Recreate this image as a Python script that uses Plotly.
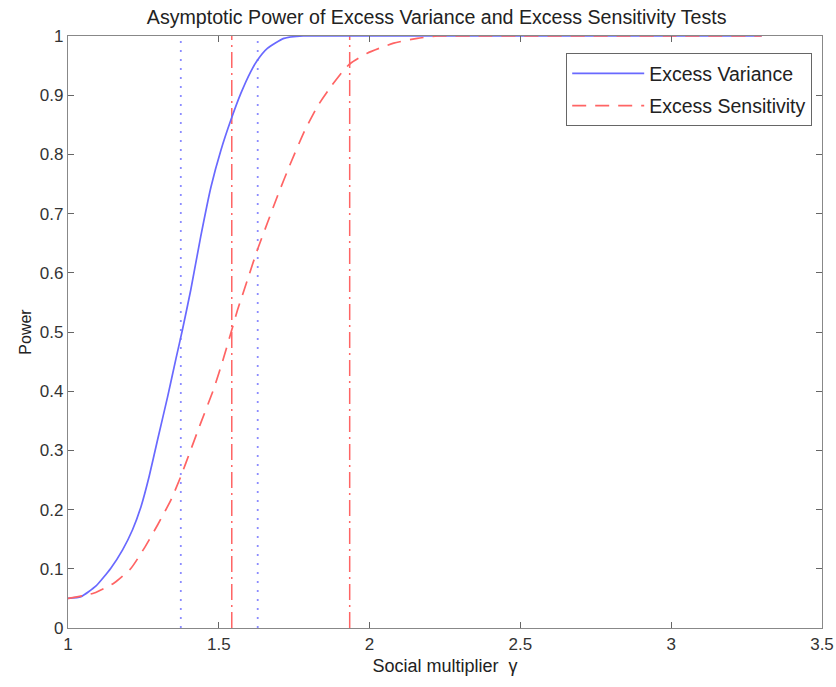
import plotly.graph_objects as go

gamma_ev = [1.0, 1.043, 1.093, 1.142, 1.181, 1.214, 1.242, 1.269, 1.297, 1.33, 1.358, 1.38, 1.407,
            1.44, 1.474, 1.507, 1.54, 1.573, 1.606, 1.628, 1.661, 1.716, 1.78, 1.9, 2.2, 2.6, 3.0, 3.3]
power_ev = [0.05, 0.053, 0.071, 0.101, 0.132, 0.166, 0.205, 0.256, 0.318, 0.39, 0.455, 0.505, 0.571,
            0.661, 0.745, 0.807, 0.858, 0.903, 0.94, 0.959, 0.979, 0.996, 1.0, 1.0, 1.0, 1.0, 1.0, 1.0]

gamma_es = [1.0, 1.087, 1.153, 1.209, 1.253, 1.297, 1.341, 1.374, 1.407, 1.44, 1.484, 1.517, 1.541,
            1.562, 1.595, 1.628, 1.661, 1.694, 1.738, 1.783, 1.827, 1.871, 1.915, 1.937, 1.992,
            2.08, 2.158, 2.224, 2.4, 2.8, 3.0, 3.3]
power_es = [0.05, 0.059, 0.076, 0.101, 0.135, 0.174, 0.216, 0.256, 0.301, 0.346, 0.405, 0.458, 0.50,
            0.537, 0.588, 0.639, 0.684, 0.729, 0.785, 0.838, 0.881, 0.914, 0.943, 0.954, 0.971,
            0.988, 0.996, 1.0, 1.0, 1.0, 1.0, 1.0]

ev_bounds = [1.374, 1.629]
es_bounds = [1.543, 1.934]

blue = "rgb(105,105,255)"
red = "rgb(255,100,100)"

fig = go.Figure()
for v in ev_bounds:
    fig.add_trace(go.Scatter(x=[v, v], y=[0, 1], mode="lines", showlegend=False,
                             line=dict(color="rgb(140,140,255)", width=1.8, dash="2px,7px"), hoverinfo="skip"))
for v in es_bounds:
    fig.add_trace(go.Scatter(x=[v, v], y=[0, 1], mode="lines", showlegend=False,
                             line=dict(color=red, width=1.5, dash="16px,5px,2px,5px"), hoverinfo="skip"))

fig.add_trace(go.Scatter(x=gamma_ev, y=power_ev, mode="lines", name="Excess Variance", legendgroup="ev",
                         line=dict(color=blue, width=1.7, shape="spline", smoothing=0.5)))
fig.add_trace(go.Scatter(x=gamma_es, y=power_es, mode="lines", name="Excess Sensitivity", legendgroup="es",
                         line=dict(color=red, width=1.7, dash="14px,9px", shape="spline", smoothing=0.5)))

font = "Liberation Sans, Arial, sans-serif"
axis_common = dict(ticks="inside", ticklen=6, tickcolor="#666", showgrid=False, zeroline=False,
                   showline=True, linecolor="#888", linewidth=1.2, mirror="ticks", automargin=False)
fig.update_layout(
    width=836, height=687,
    margin=dict(l=68, r=14, t=36, b=59),
    paper_bgcolor="white", plot_bgcolor="white",
    font=dict(family=font, size=16, color="#222"),
    title=dict(text="Asymptotic Power of Excess Variance and Excess Sensitivity Tests",
               x=0.489, xref="paper", xanchor="center", y=0.9745, yanchor="middle",
               font=dict(size=19.6, color="#222")),
    xaxis=dict(range=[1, 3.5], tickvals=[1, 1.5, 2, 2.5, 3, 3.5],
               ticktext=["1", "1.5", "2", "2.5", "3", "3.5"],
               tickfont=dict(size=17, color="#333"),
               title=dict(text="Social multiplier  γ", standoff=6, font=dict(size=18)), **axis_common),
    yaxis=dict(range=[0, 1], tickvals=[i / 10 for i in range(11)],
               ticktext=["0", "0.1", "0.2", "0.3", "0.4", "0.5", "0.6", "0.7", "0.8", "0.9", "1"],
               tickfont=dict(size=17, color="#333"),
               title=dict(text="Power", standoff=4, font=dict(size=16)), **axis_common),
    legend=dict(x=0.987, y=0.971, xanchor="right", yanchor="top", bordercolor="#666", borderwidth=1,
                bgcolor="white", font=dict(size=19.5, color="#222"), tracegroupgap=4,
                traceorder="grouped", itemwidth=72),
)

fig.write_html("out.html", config={"displayModeBar": False},
               post_script="document.body.style.margin='0';")
